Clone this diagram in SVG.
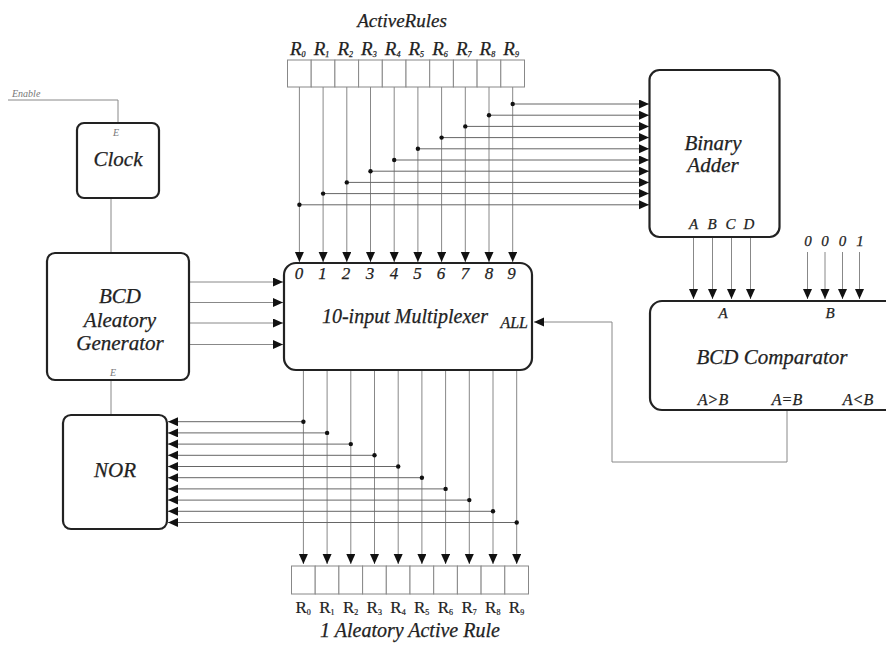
<svg xmlns="http://www.w3.org/2000/svg" width="886" height="646" viewBox="0 0 886 646">
<style>
.t{font-family:"Liberation Serif","DejaVu Serif",serif;font-style:italic;fill:#222;stroke:#222;stroke-width:0.25}
.r{font-family:"Liberation Serif",serif;fill:#222;stroke:#222;stroke-width:0.2}
.g{fill:#777;stroke:none}
.box{fill:#fff;stroke:#222;stroke-width:2.2}
.cell{fill:#fff;stroke:#888;stroke-width:1}
.w{fill:none;stroke:#888;stroke-width:1}
.h{fill:none;stroke:#666;stroke-width:1}
.a{marker-end:url(#ar)}
</style>
<defs>
<marker id="ar" markerUnits="userSpaceOnUse" markerWidth="11" markerHeight="10" refX="10" refY="4.5" orient="auto"><path d="M0,0L10,4.5L0,9z" fill="#111"/></marker>
</defs>
<rect width="886" height="646" fill="#fff"/>

<g id="connectors">
<polyline class="w" points="8,100 118,100 118,123"/>
<text class="t g" x="12" y="97" font-size="10">Enable</text>
<line class="w" x1="111" y1="198" x2="111" y2="253"/>
<polygon points="104,253 118,253 111,264" fill="#fff" stroke="#888"/>
<line class="w" x1="111" y1="380" x2="111" y2="415"/>
<line class="w a" x1="189" y1="282" x2="283" y2="282"/>
<line class="w a" x1="189" y1="302.5" x2="283" y2="302.5"/>
<line class="w a" x1="189" y1="323" x2="283" y2="323"/>
<line class="w a" x1="189" y1="344.5" x2="283" y2="344.5"/>
<g>
<line class="w a" x1="299.4" y1="87" x2="299.4" y2="262"/>
<line class="w a" x1="323.1" y1="87" x2="323.1" y2="262"/>
<line class="w a" x1="346.8" y1="87" x2="346.8" y2="262"/>
<line class="w a" x1="370.5" y1="87" x2="370.5" y2="262"/>
<line class="w a" x1="394.2" y1="87" x2="394.2" y2="262"/>
<line class="w a" x1="417.9" y1="87" x2="417.9" y2="262"/>
<line class="w a" x1="441.6" y1="87" x2="441.6" y2="262"/>
<line class="w a" x1="465.3" y1="87" x2="465.3" y2="262"/>
<line class="w a" x1="489.0" y1="87" x2="489.0" y2="262"/>
<line class="w a" x1="512.7" y1="87" x2="512.7" y2="262"/>
</g>
<g>
<line class="h a" x1="299.4" y1="204.8" x2="649" y2="204.8"/><circle cx="299.4" cy="204.8" r="2.2" fill="#111"/>
<line class="h a" x1="323.1" y1="193.6" x2="649" y2="193.6"/><circle cx="323.1" cy="193.6" r="2.2" fill="#111"/>
<line class="h a" x1="346.8" y1="182.4" x2="649" y2="182.4"/><circle cx="346.8" cy="182.4" r="2.2" fill="#111"/>
<line class="h a" x1="370.5" y1="171.2" x2="649" y2="171.2"/><circle cx="370.5" cy="171.2" r="2.2" fill="#111"/>
<line class="h a" x1="394.2" y1="160" x2="649" y2="160"/><circle cx="394.2" cy="160" r="2.2" fill="#111"/>
<line class="h a" x1="417.9" y1="148.8" x2="649" y2="148.8"/><circle cx="417.9" cy="148.8" r="2.2" fill="#111"/>
<line class="h a" x1="441.6" y1="137.6" x2="649" y2="137.6"/><circle cx="441.6" cy="137.6" r="2.2" fill="#111"/>
<line class="h a" x1="465.3" y1="126.4" x2="649" y2="126.4"/><circle cx="465.3" cy="126.4" r="2.2" fill="#111"/>
<line class="h a" x1="489.0" y1="115.2" x2="649" y2="115.2"/><circle cx="489.0" cy="115.2" r="2.2" fill="#111"/>
<line class="h a" x1="512.7" y1="104" x2="649" y2="104"/><circle cx="512.7" cy="104" r="2.2" fill="#111"/>
</g>
<g>
<line class="w a" x1="303.4" y1="370" x2="303.4" y2="564"/>
<line class="w a" x1="327.1" y1="370" x2="327.1" y2="564"/>
<line class="w a" x1="350.8" y1="370" x2="350.8" y2="564"/>
<line class="w a" x1="374.5" y1="370" x2="374.5" y2="564"/>
<line class="w a" x1="398.2" y1="370" x2="398.2" y2="564"/>
<line class="w a" x1="421.9" y1="370" x2="421.9" y2="564"/>
<line class="w a" x1="445.6" y1="370" x2="445.6" y2="564"/>
<line class="w a" x1="469.3" y1="370" x2="469.3" y2="564"/>
<line class="w a" x1="493.0" y1="370" x2="493.0" y2="564"/>
<line class="w a" x1="516.7" y1="370" x2="516.7" y2="564"/>
</g>
<g>
<line class="h a" x1="303.4" y1="421.7" x2="168" y2="421.7"/><circle cx="303.4" cy="421.7" r="2.2" fill="#111"/>
<line class="h a" x1="327.1" y1="432.9" x2="168" y2="432.9"/><circle cx="327.1" cy="432.9" r="2.2" fill="#111"/>
<line class="h a" x1="350.8" y1="444.1" x2="168" y2="444.1"/><circle cx="350.8" cy="444.1" r="2.2" fill="#111"/>
<line class="h a" x1="374.5" y1="455.3" x2="168" y2="455.3"/><circle cx="374.5" cy="455.3" r="2.2" fill="#111"/>
<line class="h a" x1="398.2" y1="466.5" x2="168" y2="466.5"/><circle cx="398.2" cy="466.5" r="2.2" fill="#111"/>
<line class="h a" x1="421.9" y1="477.7" x2="168" y2="477.7"/><circle cx="421.9" cy="477.7" r="2.2" fill="#111"/>
<line class="h a" x1="445.6" y1="488.9" x2="168" y2="488.9"/><circle cx="445.6" cy="488.9" r="2.2" fill="#111"/>
<line class="h a" x1="469.3" y1="500.1" x2="168" y2="500.1"/><circle cx="469.3" cy="500.1" r="2.2" fill="#111"/>
<line class="h a" x1="493.0" y1="511.3" x2="168" y2="511.3"/><circle cx="493.0" cy="511.3" r="2.2" fill="#111"/>
<line class="h a" x1="516.7" y1="522.5" x2="168" y2="522.5"/><circle cx="516.7" cy="522.5" r="2.2" fill="#111"/>
</g>
<line class="w a" x1="693.5" y1="237" x2="693.5" y2="299"/>
<line class="w a" x1="712.5" y1="237" x2="712.5" y2="299"/>
<line class="w a" x1="731.5" y1="237" x2="731.5" y2="299"/>
<line class="w a" x1="750.5" y1="237" x2="750.5" y2="299"/>
<line class="w a" x1="807.5" y1="252" x2="807.5" y2="299"/>
<line class="w a" x1="825" y1="252" x2="825" y2="299"/>
<line class="w a" x1="842.5" y1="252" x2="842.5" y2="299"/>
<line class="w a" x1="859.5" y1="252" x2="859.5" y2="299"/>
<polyline class="w a" points="787,410 787,462 612,462 612,322 534,322"/>
</g>

<g id="activeRules">
<text class="t" x="402" y="27" font-size="19" text-anchor="middle">ActiveRules</text>
<rect class="cell" x="287.5" y="60" width="23.7" height="27"/>
<rect class="cell" x="311.2" y="60" width="23.7" height="27"/>
<rect class="cell" x="334.9" y="60" width="23.7" height="27"/>
<rect class="cell" x="358.6" y="60" width="23.7" height="27"/>
<rect class="cell" x="382.3" y="60" width="23.7" height="27"/>
<rect class="cell" x="406.0" y="60" width="23.7" height="27"/>
<rect class="cell" x="429.7" y="60" width="23.7" height="27"/>
<rect class="cell" x="453.4" y="60" width="23.7" height="27"/>
<rect class="cell" x="477.1" y="60" width="23.7" height="27"/>
<rect class="cell" x="500.8" y="60" width="23.7" height="27"/>
<g class="t" font-size="19">
<text x="290" y="55">R<tspan font-size="8" dy="2">0</tspan></text>
<text x="313.7" y="55">R<tspan font-size="8" dy="2">1</tspan></text>
<text x="337.4" y="55">R<tspan font-size="8" dy="2">2</tspan></text>
<text x="361.1" y="55">R<tspan font-size="8" dy="2">3</tspan></text>
<text x="384.8" y="55">R<tspan font-size="8" dy="2">4</tspan></text>
<text x="408.5" y="55">R<tspan font-size="8" dy="2">5</tspan></text>
<text x="432.2" y="55">R<tspan font-size="8" dy="2">6</tspan></text>
<text x="455.9" y="55">R<tspan font-size="8" dy="2">7</tspan></text>
<text x="479.6" y="55">R<tspan font-size="8" dy="2">8</tspan></text>
<text x="503.3" y="55">R<tspan font-size="8" dy="2">9</tspan></text>
</g>
</g>

<g id="clock">
<rect class="box" x="77" y="123" width="82" height="75" rx="7"/>
<text class="t g" x="116" y="136" font-size="10" text-anchor="middle">E</text>
<text class="t" x="118" y="166" font-size="21" text-anchor="middle">Clock</text>
</g>

<g id="generator">
<rect class="box" x="47" y="253" width="142" height="127" rx="8"/>
<text class="t" x="120" y="303" font-size="21" text-anchor="middle">BCD</text>
<text class="t" x="120" y="327" font-size="21" text-anchor="middle">Aleatory</text>
<text class="t" x="120" y="350" font-size="21" text-anchor="middle">Generator</text>
<text class="t g" x="113" y="376" font-size="10" text-anchor="middle">E</text>
</g>

<g id="nor">
<rect class="box" x="63" y="415" width="104" height="114" rx="8"/>
<text class="t" x="115" y="477" font-size="21" text-anchor="middle">NOR</text>
</g>

<g id="multiplexer">
<rect class="box" x="284" y="263" width="248" height="107" rx="12"/>
<g class="t" font-size="17" text-anchor="middle">
<text x="299" y="279">0</text><text x="322.5" y="279">1</text><text x="346" y="279">2</text><text x="370" y="279">3</text><text x="394" y="279">4</text><text x="417.5" y="279">5</text><text x="441" y="279">6</text><text x="465" y="279">7</text><text x="489" y="279">8</text><text x="511.5" y="279">9</text>
</g>
<text class="t" x="405" y="323" font-size="20" text-anchor="middle">10-input Multiplexer</text>
<text class="t" x="528" y="328" font-size="16" text-anchor="end">ALL</text>
</g>

<g id="binaryAdder">
<rect class="box" x="649.5" y="70" width="130" height="167" rx="10"/>
<text class="t" x="713" y="150" font-size="21" text-anchor="middle">Binary</text>
<text class="t" x="713" y="172" font-size="21" text-anchor="middle">Adder</text>
<g class="t" font-size="15" text-anchor="middle">
<text x="693.5" y="229">A</text><text x="712" y="229">B</text><text x="730.5" y="229">C</text><text x="749" y="229">D</text>
</g>
</g>

<g id="constants">
<g class="t" font-size="15" text-anchor="middle">
<text x="808" y="246">0</text><text x="825" y="246">0</text><text x="842.5" y="246">0</text><text x="860" y="246">1</text>
</g>
</g>

<g id="comparator">
<rect class="box" x="650" y="301" width="260" height="109" rx="12"/>
<g class="t" font-size="15" text-anchor="middle">
<text x="723" y="318">A</text><text x="830" y="318">B</text>
</g>
<text class="t" x="772" y="364" font-size="21" text-anchor="middle">BCD Comparator</text>
<g class="t" font-size="16" text-anchor="middle">
<text x="713" y="405">A&gt;B</text><text x="787" y="405">A=B</text><text x="858" y="405">A&lt;B</text>
</g>
</g>

<g id="outputRule">
<rect class="cell" x="291.5" y="566" width="23.7" height="28"/>
<rect class="cell" x="315.2" y="566" width="23.7" height="28"/>
<rect class="cell" x="338.9" y="566" width="23.7" height="28"/>
<rect class="cell" x="362.6" y="566" width="23.7" height="28"/>
<rect class="cell" x="386.3" y="566" width="23.7" height="28"/>
<rect class="cell" x="410.0" y="566" width="23.7" height="28"/>
<rect class="cell" x="433.7" y="566" width="23.7" height="28"/>
<rect class="cell" x="457.4" y="566" width="23.7" height="28"/>
<rect class="cell" x="481.1" y="566" width="23.7" height="28"/>
<rect class="cell" x="504.8" y="566" width="23.7" height="28"/>
<g class="r" font-size="17">
<text x="295.5" y="613">R<tspan font-size="8" dy="2">0</tspan></text>
<text x="319.2" y="613">R<tspan font-size="8" dy="2">1</tspan></text>
<text x="342.9" y="613">R<tspan font-size="8" dy="2">2</tspan></text>
<text x="366.6" y="613">R<tspan font-size="8" dy="2">3</tspan></text>
<text x="390.3" y="613">R<tspan font-size="8" dy="2">4</tspan></text>
<text x="414.0" y="613">R<tspan font-size="8" dy="2">5</tspan></text>
<text x="437.7" y="613">R<tspan font-size="8" dy="2">6</tspan></text>
<text x="461.4" y="613">R<tspan font-size="8" dy="2">7</tspan></text>
<text x="485.1" y="613">R<tspan font-size="8" dy="2">8</tspan></text>
<text x="508.8" y="613">R<tspan font-size="8" dy="2">9</tspan></text>
</g>
<text class="t" x="410" y="637" font-size="20" text-anchor="middle">1 Aleatory Active Rule</text>
</g>
</svg>
